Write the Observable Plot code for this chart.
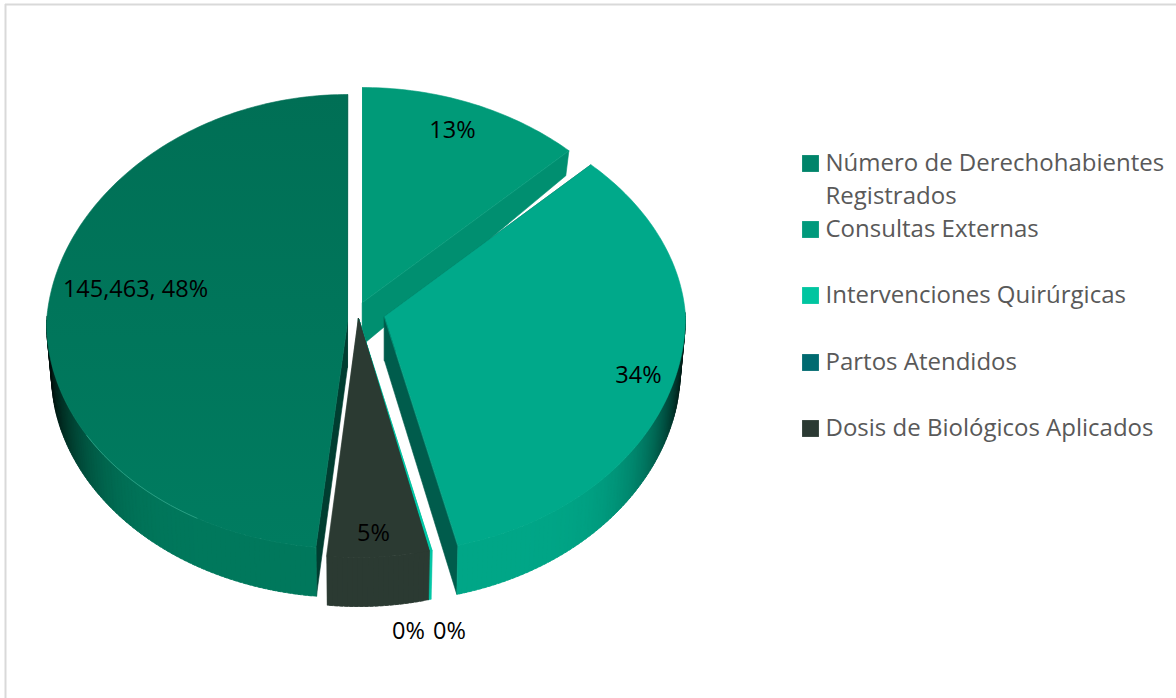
<!DOCTYPE html>
<html><head><meta charset="utf-8">
<script src="https://cdn.jsdelivr.net/npm/d3@7"></script>
<script src="https://cdn.jsdelivr.net/npm/@observablehq/plot@0.6"></script>
<style>html,body{margin:0;padding:0;background:#fff}svg{display:block}</style>
</head><body><div id="chart"></div>
<script>
// Slices, clockwise from the one that ends at twelve o'clock
const sliceNames = ["Número de Derechohabientes Registrados","Consultas Externas","(sin nombre)","Intervenciones Quirúrgicas","Partos Atendidos","Dosis de Biológicos Aplicados"];
const sliceValues = [145463, 37700, 101000, 400, 40, 16400];
const sliceLabels = ["145,463, 48%","13%","34%","0%","0%","5%"];
const sliceColors = ["url(#topGrad)","#009a78","#00a98a","#00c9a7","#00c9a7","#2b3a32"];
const rimColors   = ["#00785c","#009272","#00a687","#00c9a7","#00c9a7","#2b3a32"];
const wallColors  = ["#003d30","#008f70","#005c4c","#00b090","#00b090","#2b3a32"];
// Legend
const legendLines = ["Número de Derechohabientes","Registrados","Consultas Externas","Intervenciones Quirúrgicas","Partos Atendidos","Dosis de Biológicos Aplicados"];
const legendSwatch = ["#00846a","","#009a7c","#00c5a0","#006a70","#2b3a33"];
// Layout
const legendY = [163,196,229,295,362,428];
const labelX = [135,452,638,408,449,373];
const labelY = [289,130,375,631,631,533];
const W = 1176, H = 698, rx = 301;
const ryBack  = [228,215,215,215,215,215];
const ryFront = [226,234,236,239,239,239];
const centre = [357,318];
const explodeX = [-10,5,27,1,1,1];
const explodeY = [4,-16,-2,0,0,0];
const paintOrder = [1,0,3,4,5,2];
const darkened = new Set([0,1,2]);

const total = d3.sum(sliceValues);
const a0 = -2*Math.PI*sliceValues[0]/total;
const arcs = d3.pie().sort(null).startAngle(a0).endAngle(a0+2*Math.PI)(sliceValues);

const thick = y => Math.min(49, 25 + (y-150)*0.115);
const rim = (i,t) => {
  const cx = centre[0]+explodeX[i], cy = centre[1]+explodeY[i];
  const c = Math.cos(t);
  return [cx + rx*Math.sin(t)*(1-0.045*Math.max(c,0)), cy - (c>0?ryBack[i]:ryFront[i])*c];
};
const apex = i => [centre[0]+explodeX[i], centre[1]+explodeY[i]];
const down = (i,p) => {
  const cx = centre[0]+explodeX[i];
  return [cx + (p[0]-cx)*0.985, p[1] + thick(p[1])];
};
const polys = [];
let pid = 0;
const addPoly = (pts, color) => { pid++; pts.forEach(p => polys.push({id:pid, x:p[0], y:p[1], color})); };
const step = Math.PI/180;
for (const i of paintOrder) {
  const {startAngle:s, endAngle:e} = arcs[i];
  const n = Math.max(1, Math.ceil((e-s)/step));
  const ts = d3.range(n+1).map(k => s + (e-s)*k/n);
  const A = apex(i);
  for (const t of [s,e]) {
    const R = rim(i,t);
    addPoly([A,R,down(i,R),down(i,A)], wallColors[i]);
  }
  for (let k=0;k<n;k++) {
    const tm = (ts[k]+ts[k+1])/2;
    if (Math.cos(tm) > 0.02) continue;
    const p = rim(i,ts[k]);
    const shade = darkened.has(i) ? 0.88*Math.pow(Math.abs(Math.sin(tm)),8) : 0;
    // overlap neighbouring bands a little to hide seams
    const q2 = rim(i,Math.min(e,ts[k+1]+step*0.6));
    addPoly([p,q2,down(i,q2),down(i,p)], d3.interpolateRgb(rimColors[i],"#000")(shade));
  }
  addPoly([A,...ts.map(t=>rim(i,t))], sliceColors[i]);
}
const hl = d3.range(-150,-118,2).map(d=>{const p=rim(0,d*step);return {x:p[0],y:p[1]};});

const labelsData = sliceLabels.map((t,i)=>({t,x:labelX[i],y:labelY[i]}));
const legendData = legendLines.map((t,i)=>({t,c:legendSwatch[i],y:legendY[i]}));

const chart = Plot.plot({
  width:W, height:H, margin:0,
  x:{domain:[0,W],range:[0,W],axis:null},
  y:{domain:[0,H],range:[0,H],axis:null},
  color:{type:"identity"},
  marks:[
    () => {
      const ns = "http://www.w3.org/2000/svg";
      const defs = document.createElementNS(ns,"defs");
      const g = document.createElementNS(ns,"linearGradient");
      g.setAttribute("id","topGrad");
      g.setAttribute("x1","0");g.setAttribute("y1","0");g.setAttribute("x2","0");g.setAttribute("y2","1");
      [["0","#006f55"],["1","#007c60"]].forEach(([o,c])=>{
        const st=document.createElementNS(ns,"stop");st.setAttribute("offset",o);st.setAttribute("stop-color",c);g.append(st);
      });
      defs.append(g);
      return defs;
    },
    Plot.ruleX([5],{y1:4,y2:H,stroke:"#d9d9d9",strokeWidth:2}),
    Plot.ruleY([4],{x1:5,x2:W,stroke:"#d9d9d9",strokeWidth:2}),
    Plot.line(polys,{x:"x",y:"y",z:"id",fill:"color",stroke:"color",strokeWidth:0.6,curve:"linear-closed"}),
    Plot.line(hl,{x:"x",y:"y",stroke:"#2fa58a",strokeWidth:1,strokeOpacity:0.8}),
    Plot.text(labelsData,{x:"x",y:"y",text:"t",fill:"#000",fontSize:23.5,fontFamily:"Open Sans"}),
    Plot.dot(legendData.filter(d=>d.c),{x:()=>810,y:"y",fill:"c",symbol:"square",r:9.5}),
    Plot.text(legendData,{x:()=>825,y:"y",text:"t",textAnchor:"start",fill:"#595959",fontSize:24,fontFamily:"Open Sans"})
  ]
});
document.getElementById("chart").append(chart);
</script></body></html>
